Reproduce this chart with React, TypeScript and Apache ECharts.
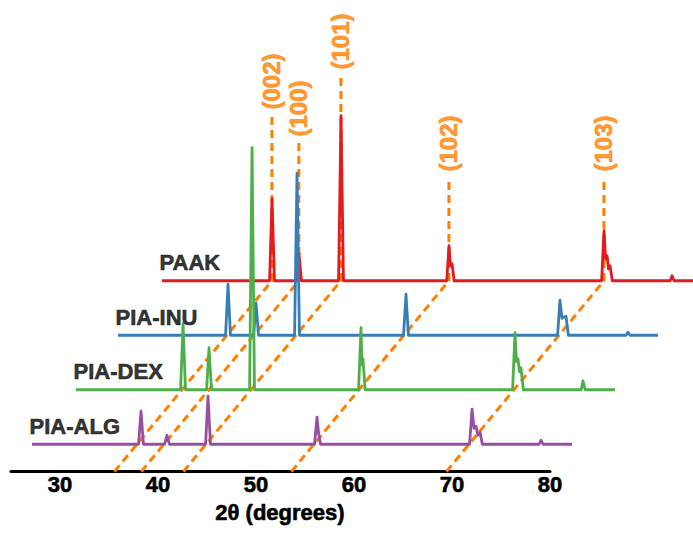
import React, { useEffect, useRef } from 'react';
import * as echarts from 'echarts';

// Samples from bottom to top of the waterfall
const SAMPLES = ['PIA-ALG', 'PIA-DEX', 'PIA-INU', 'PAAK'];
const COLORS = ['#984EA3', '#4DAF4A', '#377EB8', '#E41A1C'];
const ORANGE = '#FF7F00';

// [2θ (deg), intensity (a.u.)] key points
const ALG_DATA: [number, number][] = [
  [24.85, 0],
  [35.72, 0], [35.97, 33], [36.22, 0],
  [38.37, 0], [38.62, 9], [38.87, 0],
  [42.56, 0], [42.81, 48], [43.06, 0],
  [53.68, 0], [53.93, 27], [54.1, 10], [54.3, 0],
  [69.5, 0], [69.75, 35], [69.95, 16], [70.16, 18], [70.35, 9], [70.57, 12], [70.8, 0],
  [76.6, 0], [76.79, 4], [77.0, 0],
  [79.95, 0],
];
const DEX_DATA: [number, number][] = [
  [24.75, 0],
  [35.42, 0], [35.67, 66], [35.92, 0],
  [38.07, 0], [38.32, 42], [38.57, 0],
  [42.46, 0], [42.71, 242], [42.96, 0],
  [53.58, 0], [53.83, 62], [53.93, 25], [54.03, 31], [54.25, 0],
  [69.3, 0], [69.54, 57], [69.7, 28], [69.85, 31], [70.0, 18], [70.15, 22], [70.4, 0],
  [76.3, 0], [76.48, 9], [76.7, 0],
  [79.75, 0],
];
const INU_DATA: [number, number][] = [
  [24.44, 0],
  [35.42, 0], [35.67, 51], [35.92, 0],
  [38.28, 0], [38.53, 32], [38.78, 0],
  [42.46, 0], [42.71, 162], [42.96, 0],
  [53.58, 0], [53.83, 41], [54.08, 0],
  [69.3, 0], [69.54, 35], [69.75, 17], [69.9, 18], [70.16, 19], [70.4, 0],
  [76.3, 0], [76.48, 3], [76.7, 0],
  [79.55, 0],
];
const PAAK_DATA: [number, number][] = [
  [24.34, 0],
  [35.32, 0], [35.57, 82], [35.82, 0],
  [38.07, 0], [38.32, 27], [38.57, 0],
  [42.36, 0], [42.61, 165], [42.86, 0],
  [53.4, 0], [53.63, 35], [53.78, 15], [53.94, 17], [54.15, 0],
  [69.2, 0], [69.45, 50], [69.6, 22], [69.76, 25], [69.9, 12], [70.06, 15], [70.3, 0],
  [76.2, 0], [76.39, 5], [76.6, 0],
  [80.0, 0],
];
const PATTERNS = [ALG_DATA, DEX_DATA, INU_DATA, PAAK_DATA];

// Reflections (hkl) and their 2θ positions
const HKL = ['(002)', '(100)', '(101)', '(102)', '(103)'];
const HKL_2THETA = [35.56, 38.31, 42.6, 53.62, 69.44];
const HKL_LABEL_LEVEL = [361.5, 334.5, 401.5, 299.5, 299.5];

const X_TICKS = [30, 40, 50, 60, 70, 80];

// layout of the waterfall
const STEP_DEG = 4.59;
const STEP_Y = 54.5;
const Y_MAX = 471.5;
const PX_PER_DEG = 9.8;
const GRID_LEFT = 11;
const FONT = '"Liberation Sans", Arial, Helvetica, sans-serif';

export default function App() {
  const ref = useRef<HTMLDivElement>(null);
  useEffect(() => {
    if (!ref.current) return;
    const chart = echarts.init(ref.current, null, { renderer: 'svg' });
    const lift = (i: number) => i + 0.5;
    const onPlot = { xAxisIndex: 1, yAxisIndex: 1 };

    const traceSeries = PATTERNS.map((pts, i) => ({
      type: 'line',
      name: SAMPLES[i],
      ...onPlot,
      data: pts.map(([x, y]) => [x + lift(i) * STEP_DEG, y + lift(i) * STEP_Y]),
      symbol: 'none',
      showSymbol: false,
      silent: true,
      z: 10 - i,
      lineStyle: { color: COLORS[i], width: 2.8, join: 'round' },
    })).reverse();

    const top = SAMPLES.length - 1;
    const dashSeries = HKL.map((h, k) => {
      const t = HKL_2THETA[k];
      const tx = t + lift(top) * STEP_DEG;
      return {
        type: 'line',
        name: h,
        ...onPlot,
        data: [
          [t, 0],
          [tx, lift(top) * STEP_Y],
          [tx, HKL_LABEL_LEVEL[k] - 5],
        ],
        symbol: 'none',
        showSymbol: false,
        silent: true,
        z: 1,
        lineStyle: { color: ORANGE, width: 3, type: [8, 5] },
      };
    });

    const hklLabels = {
      type: 'scatter',
      ...onPlot,
      symbolSize: 1,
      silent: true,
      z: 20,
      itemStyle: { color: 'rgba(0,0,0,0)' },
      data: HKL.map((h, k) => ({
        name: h,
        value: [HKL_2THETA[k] + lift(top) * STEP_DEG, HKL_LABEL_LEVEL[k]],
      })),
      label: {
        show: true,
        formatter: '{b}',
        position: 'top',
        distance: 0,
        rotate: 90,
        align: 'left',
        verticalAlign: 'middle',
        color: ORANGE,
        textBorderColor: ORANGE,
        textBorderWidth: 0.7,
        fontSize: 24,
        fontWeight: 'bold',
        fontFamily: FONT,
      },
    };

    const sampleLabels = {
      type: 'scatter',
      ...onPlot,
      symbolSize: 1,
      silent: true,
      z: 20,
      itemStyle: { color: 'rgba(0,0,0,0)' },
      data: SAMPLES.map((s, i) => ({
        name: s,
        value: [PATTERNS[i][0][0] + lift(i) * STEP_DEG - 0.3, lift(i) * STEP_Y + 18],
      })),
      label: {
        show: true,
        formatter: '{b}',
        position: 'right',
        distance: 0,
        color: '#000',
        textBorderColor: '#000',
        textBorderWidth: 0.6,
        fontSize: 22,
        fontWeight: 'bold',
        fontFamily: FONT,
      },
    };

    const plotWidth = 693 - GRID_LEFT;
    chart.setOption({
      animation: false,
      backgroundColor: '#fff',
      grid: [
        { left: GRID_LEFT, top: 0, width: 55 * PX_PER_DEG, bottom: 537 - Y_MAX, outerBoundsMode: 'none' },
        { left: GRID_LEFT, top: 0, width: plotWidth, bottom: 537 - Y_MAX, outerBoundsMode: 'none' },
      ],
      xAxis: [
        {
          gridIndex: 0,
          type: 'value',
          min: 25,
          max: 80,
          interval: 5,
          axisLine: { show: true, lineStyle: { color: '#000', width: 3 } },
          axisTick: { show: false },
          splitLine: { show: false },
          axisLabel: {
            formatter: (v: number) => (X_TICKS.includes(v) ? String(v) : ''),
            fontSize: 22,
            fontWeight: 'bold',
            color: '#000',
            textBorderColor: '#000',
            textBorderWidth: 0.6,
            margin: 2,
            fontFamily: FONT,
          },
        },
        {
          gridIndex: 1,
          type: 'value',
          min: 25,
          max: 25 + plotWidth / PX_PER_DEG,
          show: false,
        },
      ],
      yAxis: [
        { gridIndex: 0, type: 'value', min: 0, max: Y_MAX, show: false },
        { gridIndex: 1, type: 'value', min: 0, max: Y_MAX, show: false },
      ],
      graphic: [
        {
          type: 'text',
          x: 280,
          y: 512,
          style: {
            text: '2θ (degrees)',
            align: 'center',
            verticalAlign: 'middle',
            fill: '#000',
            stroke: '#000',
            lineWidth: 0.6,
            fontSize: 22,
            fontWeight: 'bold',
            fontFamily: FONT,
          },
        },
      ],
      series: [...dashSeries, ...traceSeries, hklLabels, sampleLabels],
    });
    return () => chart.dispose();
  }, []);
  return (
    <div
      ref={ref}
      style={{ position: 'fixed', left: 0, top: 0, width: 693, height: 537, background: '#fff' }}
    />
  );
}
